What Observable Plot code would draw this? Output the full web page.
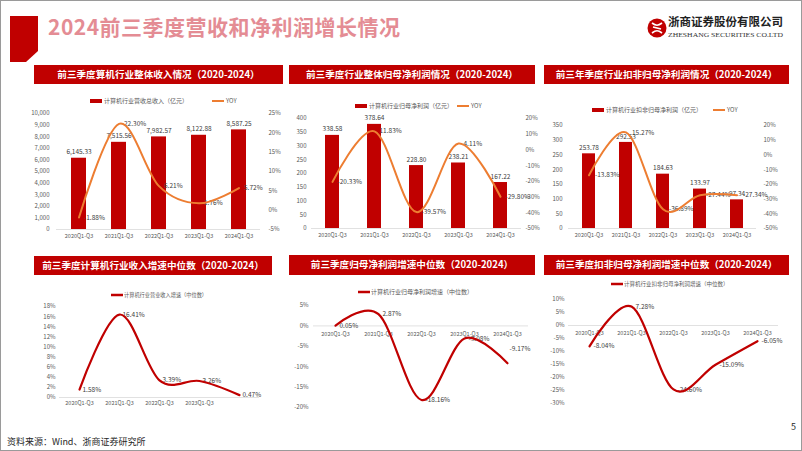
<!DOCTYPE html>
<html><head><meta charset="utf-8">
<script src="https://cdn.jsdelivr.net/npm/d3@7"></script>
<script src="https://cdn.jsdelivr.net/npm/@observablehq/plot@0.6"></script>
<style>
html,body{margin:0;padding:0;background:#fff;}
#slide{position:relative;width:802px;height:451px;overflow:hidden;background:#fff;font-family:"Noto Sans CJK SC","Noto Sans",sans-serif;}
#frame{position:absolute;left:0;top:0;width:802px;height:451px;box-sizing:border-box;border:1px solid #9a9a9a;pointer-events:none;}
</style></head><body><div id="slide"></div>
<script>
const FONT = '"Noto Sans CJK SC","Noto Sans",sans-serif';

// ---------- data ----------
const cats = ["2020Q1-Q3", "2021Q1-Q3", "2022Q1-Q3", "2023Q1-Q3", "2024Q1-Q3"];
const revenue = [6145.33, 7515.56, 7982.57, 8122.88, 8587.25];
const revenueYoy = [-1.88, 22.30, 6.21, 1.76, 5.72];
const netProfit = [338.58, 378.64, 228.80, 238.21, 167.22];
const netProfitYoy = [-20.33, 11.83, -39.57, 4.11, -29.80];
const deductedProfit = [253.78, 292.53, 184.63, 133.97, 97.34];
const deductedProfitYoy = [-13.83, 15.27, -36.89, -27.44, -27.34];
const revenueMedian = [1.58, 16.41, 3.39, 3.26, 0.47];
const netProfitMedian = [0.05, 2.87, -18.16, -3.08, -9.17];
const deductedMedian = [-8.04, 7.28, -24.60, -15.09, -6.05];

const slideTitle = "2024前三季度营收和净利润增长情况";
const panelTitles = [
  "前三季度算机行业整体收入情况（2020-2024）",
  "前三季度行业整体归母净利润情况（2020-2024）",
  "前三年季度行业扣非归母净利润情况（2020-2024）",
  "前三季度计算机行业收入增速中位数（2020-2024）",
  "前三季度归母净利润增速中位数（2020-2024）",
  "前三季度扣非归母净利润增速中位数（2020-2024）"
];
const barSeriesNames = ["计算机行业营收总收入（亿元）", "计算机行业归母净利润（亿元）", "计算机行业扣非归母净利润（亿元）"];
const yoyName = "YOY";
const medianSeriesNames = ["计算机行业营业收入增速（中位数）", "计算机行业归母净利润增速（中位数）", "计算机行业扣非归母净利润增速（中位数）"];
const companyName = "浙商证券股份有限公司";
const companyEn = "ZHESHANG SECURITIES CO.LTD";
const sourceNote = "资料来源：Wind、浙商证券研究所";
const pageNo = "5";

const RED = "#C00000", ORANGE = "#ED7D31", GRAY = "#595959", LBL = "#404040";

const slide = document.getElementById("slide");
function place(el, left, top) {
  el.style.position = "absolute"; el.style.left = left + "px"; el.style.top = top + "px";
  slide.appendChild(el);
}

// ---------- decorations ----------
const svg = d3.select(slide).append("svg").attr("width", 802).attr("height", 451)
  .style("position", "absolute").style("left", 0).style("top", 0).style("font-family", FONT);

svg.append("polygon").attr("points", "10,16 38,16 38,51 26,62 10,62").attr("fill", RED);
svg.append("text").attr("x", 48).attr("y", 35).attr("font-size", 21).attr("font-weight", 700)
  .attr("fill", "#E48C94").attr("textLength", 352).text(slideTitle);

// logo
const lg = svg.append("g").attr("transform", "translate(657,28)");
lg.append("circle").attr("r", 9.5).attr("fill", RED);
lg.append("path").attr("d", "M-5,-5 C-1,-2 1,-2 5,-5 M-5,5 C-1,2 1,2 5,5 M-4,-1 L4,1").attr("stroke", "#fff").attr("stroke-width", 1.6).attr("fill", "none");
svg.append("text").attr("x", 668).attr("y", 26).attr("font-size", 11.5).attr("font-weight", 700)
  .attr("fill", "#222").attr("textLength", 115).text(companyName);
svg.append("text").attr("x", 668).attr("y", 36.5).attr("font-size", 6).attr("font-family", "'Liberation Serif',serif")
  .attr("fill", "#333").attr("textLength", 115).attr("lengthAdjust", "spacingAndGlyphs").text(companyEn);

// panel headers
const hdrBoxes = [
  [34, 65, 249, 19], [289, 65, 246, 19], [544, 65, 245, 19],
  [34, 256, 238, 19], [289, 255, 246, 20], [544, 255, 245, 20]
];
hdrBoxes.forEach(([x, y, w, h], i) => {
  svg.append("rect").attr("x", x).attr("y", y).attr("width", w).attr("height", h).attr("fill", RED);
  svg.append("text").attr("x", x + w / 2).attr("y", y + h / 2).attr("dy", "0.36em").attr("text-anchor", "middle")
    .attr("font-size", 9.6).attr("font-weight", 700).attr("fill", "#fff").text(panelTitles[i]);
});

// legends (bar + line)
const barLegends = [[90, 101, 212], [355, 106, 457], [592, 110, 713]];
barLegends.forEach(([x, y, lx], i) => {
  svg.append("rect").attr("x", x).attr("y", y - 2).attr("width", 12).attr("height", 4).attr("fill", RED);
  svg.append("text").attr("x", x + 14).attr("y", y).attr("dy", "0.35em").attr("font-size", 6).attr("fill", GRAY).text(barSeriesNames[i]);
  svg.append("line").attr("x1", lx).attr("x2", lx + 12).attr("y1", y).attr("y2", y).attr("stroke", ORANGE).attr("stroke-width", 2);
  svg.append("text").attr("x", lx + 14).attr("y", y).attr("dy", "0.35em").attr("font-size", 6).attr("fill", GRAY).text(yoyName);
});
const lineLegends = [[111, 295, 5.2], [358, 292, 6], [611, 284, 5.5]];
lineLegends.forEach(([x, y, fs], i) => {
  svg.append("line").attr("x1", x).attr("x2", x + 12).attr("y1", y).attr("y2", y).attr("stroke", RED).attr("stroke-width", 2.5);
  svg.append("text").attr("x", x + 13).attr("y", y).attr("dy", "0.35em").attr("font-size", fs).attr("fill", GRAY).text(medianSeriesNames[i]);
});

svg.append("text").attr("x", 7).attr("y", 445).attr("font-size", 9).attr("fill", "#262626").text(sourceNote);
svg.append("text").attr("x", 796).attr("y", 430).attr("text-anchor", "end").attr("font-size", 9).attr("fill", "#262626").text(pageNo);

// ---------- charts ----------
function comboChart(o) {
  const rows = cats.map((c, i) => ({cat: c, v: o.bars[i], r: o.yoy[i]}));
  const [l0, l1] = o.left, [r0, r1] = o.right;
  const toL = r => l0 + (r - r0) / (r1 - r0) * (l1 - l0);
  const fromL = v => r0 + (v - l0) / (l1 - l0) * (r1 - r0);
  const chart = Plot.plot({
    width: o.w, height: o.h, marginTop: o.mt, marginBottom: o.mb, marginLeft: o.ml, marginRight: o.mr,
    style: {fontFamily: FONT, fontSize: "6px", color: GRAY, background: "none", overflow: "visible"},
    x: {type: "band", domain: cats, paddingInner: o.pad, paddingOuter: o.pad / 2, label: null},
    y: {domain: o.left, label: null},
    marks: [
      Plot.axisY(o.leftTicks, {tickSize: 0, tickPadding: o.lp, tickFormat: o.lfmt, fontSize: 6, fill: GRAY, label: null}),
      Plot.axisY(o.rightTicks.map(toL), {anchor: "right", tickSize: 0, tickPadding: o.rp, fontSize: 6, fill: GRAY, label: null,
        tickFormat: v => Math.round(fromL(v)) + "%"}),
      Plot.axisX(cats, {tickSize: 0, tickPadding: 5, fontSize: 5.5, fill: GRAY, label: null}),
      Plot.ruleY([l0], {stroke: "#d9d9d9", strokeWidth: 0.8}),
      Plot.barY(rows, {x: "cat", y: "v", fill: RED}),
      Plot.text(rows, {x: "cat", y: "v", text: d => o.bfmt(d.v), dy: -6, fontSize: 6.5, fill: LBL}),
      Plot.text(rows, {x: "cat", y: d => toL(d.r), text: d => d.r.toFixed(2) + "%", textAnchor: "start", dx: o.dx, fontSize: 6.5, fill: LBL}),
      Plot.line(rows, {x: "cat", y: d => toL(d.r), stroke: ORANGE, strokeWidth: 2, curve: "cardinal"})
    ]
  });
  place(chart, o.x, o.y);
}

function medianChart(o) {
  const rows = cats.map((c, i) => ({cat: c, v: o.values[i], i}));
  const shifted = rows.filter(d => o.shift && o.shift[d.i]);
  const normal = rows.filter(d => !(o.shift && o.shift[d.i]));
  const marks = [
    Plot.axisY(o.ticks, {tickSize: 0, tickPadding: o.lp, tickFormat: d => d + "%", fontSize: 6, fill: GRAY, label: null}),
    Plot.ruleY([0], {stroke: "#d9d9d9", strokeWidth: 0.8}),
    o.labelsAtZero
      ? Plot.text(o.xTicks, {x: d => d, y: () => 0, dy: 8, fontSize: 5.5, fill: GRAY})
      : Plot.axisX(o.xTicks, {tickSize: 0, tickPadding: 4, fontSize: 5.5, fill: GRAY, label: null}),
    Plot.text(normal, {x: "cat", y: "v", text: d => d.v.toFixed(2) + "%", textAnchor: "start", dx: o.dx, fontSize: 6.5, fill: LBL}),
    Plot.line(rows, {x: "cat", y: "v", stroke: RED, strokeWidth: 2.2, curve: "cardinal"})
  ];
  shifted.forEach(d => {
    const [sx, sy] = o.shift[d.i];
    marks.push(Plot.text([d], {x: "cat", y: "v", text: d => d.v.toFixed(2) + "%", textAnchor: "start", dx: sx, dy: sy, fontSize: 6.5, fill: LBL}));
  });
  const chart = Plot.plot({
    width: o.w, height: o.h, marginTop: o.mt, marginBottom: o.mb, marginLeft: o.ml, marginRight: o.mr,
    style: {fontFamily: FONT, fontSize: "6px", color: GRAY, background: "none", overflow: "visible"},
    x: {type: "point", domain: cats, padding: 0.5, label: null, axis: o.labelsAtZero ? null : undefined},
    y: {domain: o.domain, label: null},
    marks
  });
  place(chart, o.x, o.y);
}

comboChart({x: 25, y: 108, w: 260, h: 142, mt: 5, mb: 21, ml: 31, mr: 25,
  bars: revenue, yoy: revenueYoy, left: [0, 10000], right: [-5, 25],
  leftTicks: d3.range(0, 10001, 1000), rightTicks: d3.range(-5, 26, 5),
  pad: 0.63, lp: 7, rp: 8, dx: 5, lfmt: d3.format(","), bfmt: d3.format(",.2f")});
comboChart({x: 285, y: 112, w: 255, h: 138, mt: 6, mb: 22, ml: 26, mr: 19,
  bars: netProfit, yoy: netProfitYoy, left: [0, 400], right: [-50, 20],
  leftTicks: d3.range(0, 401, 50), rightTicks: d3.range(-50, 21, 10),
  pad: 0.67, lp: 5, rp: 4, dx: 5, lfmt: d => d, bfmt: d => d.toFixed(2)});
comboChart({x: 540, y: 118, w: 262, h: 132, mt: 7, mb: 22, ml: 28, mr: 46,
  bars: deductedProfit, yoy: deductedProfitYoy, left: [0, 350], right: [-50, 20],
  leftTicks: d3.range(0, 351, 50), rightTicks: d3.range(-50, 21, 10),
  pad: 0.65, lp: 6, rp: 7, dx: 6, lfmt: d => d, bfmt: d => d.toFixed(2)});

medianChart({x: 25, y: 300, w: 260, h: 120, mt: 6, mb: 23, ml: 34, mr: 26,
  values: revenueMedian, domain: [0, 18], ticks: d3.range(0, 19, 2), lp: 4,
  xTicks: cats.slice(0, 4), labelsAtZero: false, dx: 3});
medianChart({x: 285, y: 298, w: 255, h: 122, mt: 7, mb: 13, ml: 28, mr: 12,
  values: netProfitMedian, domain: [-20, 5], ticks: d3.range(-20, 6, 5), lp: 5,
  xTicks: cats, labelsAtZero: true, dx: 4, shift: {4: [2, -14]}});
medianChart({x: 540, y: 292, w: 262, h: 128, mt: 7, mb: 17, ml: 28, mr: 24,
  values: deductedMedian, domain: [-30, 10], ticks: d3.range(-30, 11, 5), lp: 4,
  xTicks: cats, labelsAtZero: true, dx: 4});

const frame = document.createElement("div"); frame.id = "frame"; slide.appendChild(frame);
</script></body></html>
